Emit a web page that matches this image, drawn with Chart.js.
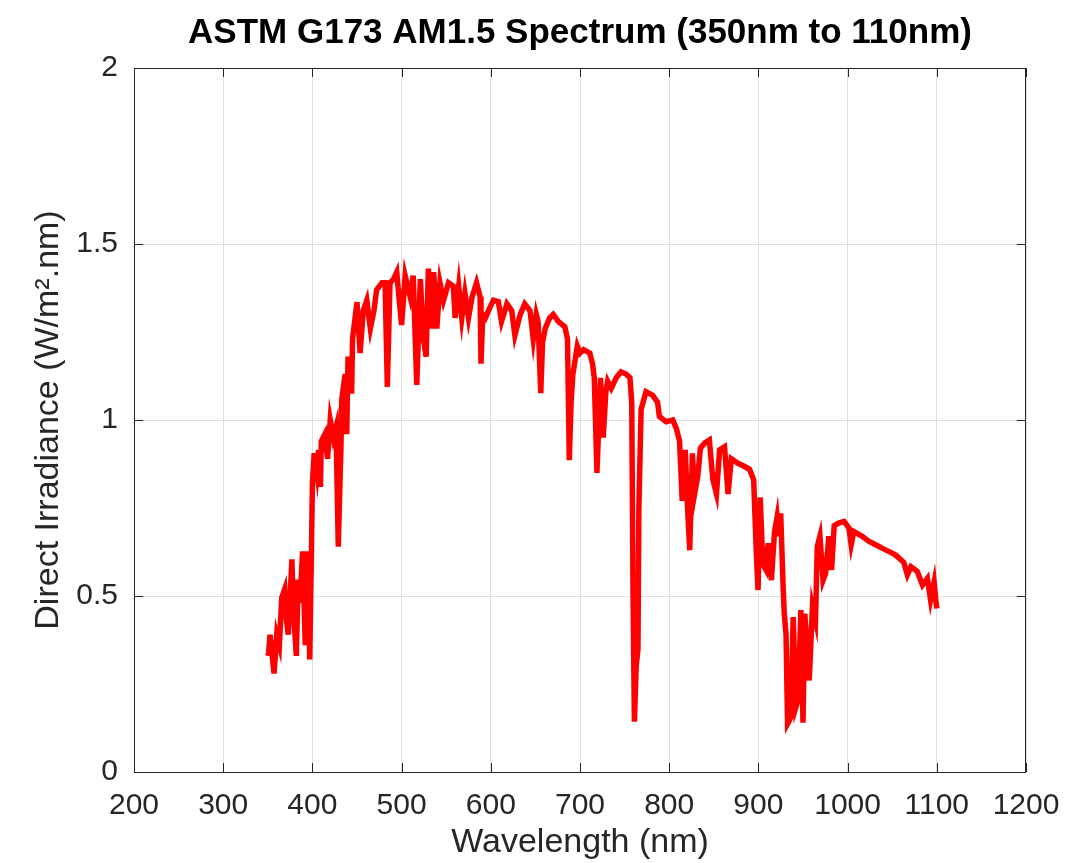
<!DOCTYPE html>
<html>
<head>
<meta charset="utf-8">
<script src="https://cdn.jsdelivr.net/npm/chart.js"></script>
<style>
  html, body { margin: 0; padding: 0; background: #fff; }
  #wrap { width: 1073px; height: 863px; }
</style>
</head>
<body>
<div id="wrap"><canvas id="canvas1"></canvas></div>
<script>
// wavelength (nm) and direct irradiance (W/m^2.nm)
const wavelength = [
  350, 351, 352.5, 355, 357, 360, 363, 365.6, 369, 371, 373, 377, 379, 382, 384, 386, 389, 392, 394, 397, 399,
  400, 402, 405, 407, 409, 410, 414, 417, 420, 423.5, 426.5, 429, 432, 433, 436.7, 438.5, 440, 444, 445,
  450, 453.5, 457, 461, 465, 469, 472, 478, 481.5, 484, 487, 491, 494.6, 497,
  500, 504, 509.6, 513, 517, 521, 524.5, 527.5, 530, 534, 536, 539.5, 543, 547, 552.6, 558, 560, 564, 567.5,
  571, 575, 579, 584, 588, 589, 591, 594, 599,
  603, 608.5, 612, 618, 623.5, 627, 633, 638, 644, 647.6, 651, 653, 656, 658, 661, 666, 670, 675.5, 683, 686, 688, 690, 692, 697,
  700, 704, 711, 714, 716, 719, 723, 726, 729, 731, 735, 740.6, 746, 752, 756, 758, 759.5, 761, 763, 765, 766, 768.5, 774, 781.6, 787, 789, 796.6,
  804, 808, 811.6, 814.6, 816, 818, 820, 823, 826, 828.5, 832, 835, 840, 845, 849, 853, 856.5, 862, 866, 869.6, 877, 883, 890, 894.7, 897.7, 899.6,
  902, 905, 908.5, 911, 914.6, 918, 921, 923, 925, 927.7, 929, 931, 932.7, 934, 936.4, 939, 942, 944.5, 947.6, 950, 952, 957, 960.6, 964, 966, 969,
  972.5, 975.4, 979, 982, 985, 990, 996, 1001.5, 1004, 1007, 1016, 1024, 1032, 1038.6, 1046.6, 1053.5, 1058, 1063, 1067, 1071, 1078, 1084,
  1089.5, 1093, 1097, 1099.6, 1100
];
const irradiance = [
  0.33, 0.34, 0.39, 0.33, 0.28, 0.39, 0.36, 0.495, 0.52, 0.43, 0.39, 0.604, 0.45, 0.33, 0.547, 0.48, 0.627, 0.36, 0.627, 0.32, 0.64,
  0.82, 0.906, 0.85, 0.915, 0.81, 0.94, 0.96, 0.89, 1.0, 0.95, 0.98, 0.64, 0.925, 1.06, 1.13, 0.96, 1.18, 1.075, 1.23,
  1.335, 1.19, 1.31, 1.34, 1.26, 1.31, 1.37, 1.39, 1.39, 1.094, 1.39, 1.40, 1.42, 1.35,
  1.27, 1.41, 1.35, 1.41, 1.10, 1.40, 1.23, 1.18, 1.43, 1.26, 1.42, 1.26, 1.39, 1.34, 1.39, 1.38, 1.29, 1.38, 1.29,
  1.36, 1.29, 1.35, 1.39, 1.35, 1.16, 1.30, 1.29, 1.32,
  1.34, 1.336, 1.28, 1.33, 1.31, 1.24, 1.30, 1.33, 1.31, 1.23, 1.30, 1.28, 1.076, 1.22, 1.26, 1.29, 1.30, 1.28, 1.265, 1.23, 0.886, 1.05, 1.13, 1.21,
  1.19, 1.20, 1.19, 1.16, 1.12, 0.85, 1.12, 0.95, 1.08, 1.11, 1.09, 1.12, 1.137, 1.13, 1.12, 1.05, 0.5, 0.143, 0.3, 0.35, 0.75, 1.03, 1.08, 1.07, 1.05, 1.01, 0.995,
  1.0, 0.976, 0.94, 0.77, 0.88, 0.915, 0.78, 0.63, 0.905, 0.79, 0.84, 0.92, 0.935, 0.943, 0.83, 0.79, 0.915, 0.924, 0.79, 0.89, 0.877, 0.87, 0.86, 0.83, 0.62, 0.517,
  0.78, 0.59, 0.574, 0.65, 0.545, 0.68, 0.725, 0.67, 0.735, 0.527, 0.45, 0.39, 0.137, 0.143, 0.156, 0.44, 0.184, 0.205, 0.46, 0.14, 0.45, 0.26, 0.47, 0.43, 0.64, 0.67,
  0.545, 0.565, 0.67, 0.574, 0.70, 0.707, 0.712, 0.693, 0.645, 0.683, 0.67, 0.655, 0.645, 0.636, 0.626, 0.617, 0.607, 0.595, 0.56, 0.583, 0.57, 0.531,
  0.55, 0.489, 0.54, 0.47, 0.465
];
const xTicks = [200, 300, 400, 500, 600, 700, 800, 900, 1000, 1100, 1200];
const yTicks = [0, 0.5, 1, 1.5, 2];

const axisColor = '#262626';
const gridColor = '#e0e0e0';
const fontFamily = '"Liberation Sans", Arial, Helvetica, sans-serif';

// full box + inward ticks, matlab style
const boxPlugin = {
  id: 'box',
  afterDraw(chart) {
    const ctx = chart.ctx;
    const a = chart.chartArea;
    const xs = chart.scales.x;
    const ys = chart.scales.y;
    const len = 9;
    ctx.save();
    ctx.strokeStyle = axisColor;
    ctx.lineWidth = 1;
    ctx.strokeRect(a.left + 0.5, a.top + 0.5, a.right - a.left - 1, a.bottom - a.top);
    ctx.beginPath();
    xTicks.forEach(v => {
      const px = Math.round(xs.getPixelForValue(v)) + 0.5;
      ctx.moveTo(px, a.bottom); ctx.lineTo(px, a.bottom - len);
      ctx.moveTo(px, a.top); ctx.lineTo(px, a.top + len);
    });
    yTicks.forEach(v => {
      const py = Math.round(ys.getPixelForValue(v)) + 0.5;
      ctx.moveTo(a.left, py); ctx.lineTo(a.left + len, py);
      ctx.moveTo(a.right, py); ctx.lineTo(a.right - len, py);
    });
    ctx.stroke();
    ctx.restore();
  }
};

const points = wavelength.map((w, i) => ({ x: w, y: irradiance[i] }));

const config = {
  type: 'scatter',
  data: {
    datasets: [{
      label: 'Direct',
      data: points,
      showLine: true,
      borderColor: '#ff0000',
      backgroundColor: '#ff0000',
      borderWidth: 5.5,
      pointRadius: 0,
      tension: 0,
      borderJoinStyle: 'miter'
    }]
  },
  options: {
    responsive: true,
    maintainAspectRatio: false,
    animation: false,
    layout: { padding: { left: 0, right: 47, top: 0, bottom: 0 } },
    plugins: {
      legend: { display: false },
      tooltip: { enabled: false },
      title: {
        display: true,
        fullSize: false,
        text: 'ASTM G173 AM1.5 Spectrum (350nm to 110nm)',
        color: '#000',
        font: { family: fontFamily, size: 35, weight: 'bold' },
        padding: { top: 12, bottom: 14 },
        align: 'center'
      }
    },
    scales: {
      x: {
        type: 'linear',
        min: 200,
        max: 1200,
        afterBuildTicks: s => { s.ticks = xTicks.map(v => ({ value: v })); },
        ticks: {
          color: axisColor,
          font: { family: fontFamily, size: 30 },
          padding: 16,
          maxRotation: 0,
          callback: v => String(v)
        },
        grid: { color: gridColor, drawTicks: false },
        border: { display: false },
        title: {
          display: true,
          text: 'Wavelength (nm)',
          color: axisColor,
          font: { family: fontFamily, size: 34 },
          padding: { top: 0, bottom: 0 }
        },
        afterFit: s => { s.height = 91; s.paddingRight = 0; s.paddingLeft = 0; }
      },
      y: {
        type: 'linear',
        min: 0,
        max: 2,
        afterBuildTicks: s => { s.ticks = yTicks.map(v => ({ value: v })); },
        ticks: {
          color: axisColor,
          font: { family: fontFamily, size: 30 },
          padding: 16,
          callback: v => String(v)
        },
        grid: { color: gridColor, drawTicks: false },
        border: { display: false },
        title: {
          display: true,
          text: 'Direct Irradiance (W/m\u00B2.nm)',
          color: axisColor,
          font: { family: fontFamily, size: 34 },
          padding: { top: 28, bottom: 0 }
        },
        afterFit: s => { s.width = 134; }
      }
    }
  },
  plugins: [boxPlugin]
};

new Chart(document.getElementById('canvas1'), config);
</script>
</body>
</html>
